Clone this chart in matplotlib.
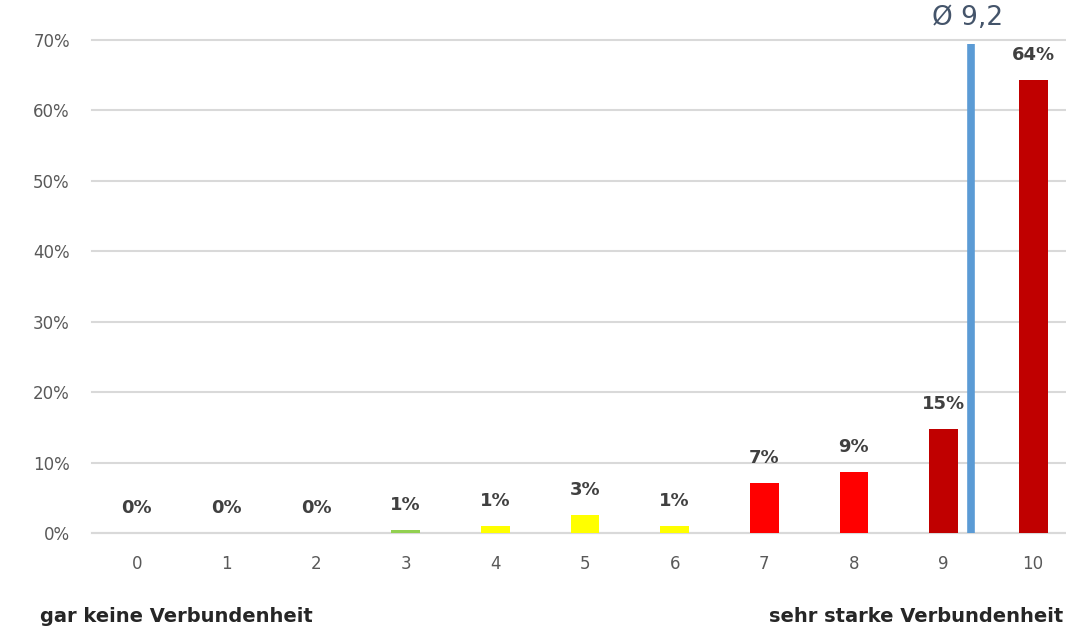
import matplotlib
matplotlib.use("Agg")
import matplotlib.pyplot as plt
from matplotlib.ticker import FuncFormatter

categories = ["0", "1", "2", "3", "4", "5", "6", "7", "8", "9", "10"]
values = [0.0, 0.0, 0.0, 0.4, 1.0, 2.6, 1.0, 7.1, 8.7, 14.8, 64.3]
labels = ["0%", "0%", "0%", "1%", "1%", "3%", "1%", "7%", "9%", "15%", "64%"]
colors = ["#92D050", "#92D050", "#92D050", "#92D050", "#FFFF00", "#FFFF00",
          "#FFFF00", "#FF0000", "#FF0000", "#C00000", "#C00000"]
avg_label = "Ø 9,2"
avg_line_x = 9.31
avg_line_top = 69.4
left_caption = "gar keine Verbundenheit"
right_caption = "sehr starke Verbundenheit"

plt.rcParams['font.family'] = ['DejaVu Sans']

fig = plt.figure(figsize=(10.66, 6.30), dpi=100)
ax = fig.add_axes([92 / 1066, 1 - 533 / 630, 986 / 1066, (533 - 40) / 630])
x = list(range(len(categories)))
ax.bar(x, values, width=0.32, color=colors, zorder=3)

ax.set_xlim(-0.5, 10.5)
ax.set_ylim(0, 70)
ax.set_yticks(range(0, 71, 10))
ax.yaxis.set_major_formatter(FuncFormatter(lambda v, p: f"{int(v)}%"))
ax.set_xticks(x)
ax.set_xticklabels(categories)
ax.grid(axis='y', color='#D9D9D9', linewidth=1.5, zorder=0)
for gl in ax.get_ygridlines():
    gl.set_clip_on(False)
for s in ['top', 'right', 'left']:
    ax.spines[s].set_visible(False)
ax.spines['bottom'].set_color('#D9D9D9')
ax.spines['bottom'].set_linewidth(1.5)
ax.tick_params(axis='both', length=0, labelsize=12, labelcolor='#595959')
ax.tick_params(axis='y', pad=16)
ax.tick_params(axis='x', pad=16)

for xi, v, lab in zip(x, values, labels):
    ax.annotate(lab, (xi, v), xytext=(0, 18), textcoords='offset points',
                ha='center', va='center', fontsize=13, fontweight='bold',
                color='#404040', zorder=4)

ax.plot([avg_line_x, avg_line_x], [0, avg_line_top], color='#5B9BD5',
        linewidth=5.5, solid_capstyle='butt', zorder=4, clip_on=False)
ax.annotate(avg_label, (avg_line_x, avg_line_top), xytext=(-3, 19),
            textcoords='offset points', ha='center', va='center',
            fontsize=19, color='#44546A', annotation_clip=False)

fig.text(40 / 1066, 1 - 617 / 630, left_caption, ha='left', va='center',
         fontsize=14, fontweight='bold', color='#262626')
fig.text(1063 / 1066, 1 - 617 / 630, right_caption, ha='right', va='center',
         fontsize=14, fontweight='bold', color='#262626')

fig.savefig("out.png", dpi=100)
